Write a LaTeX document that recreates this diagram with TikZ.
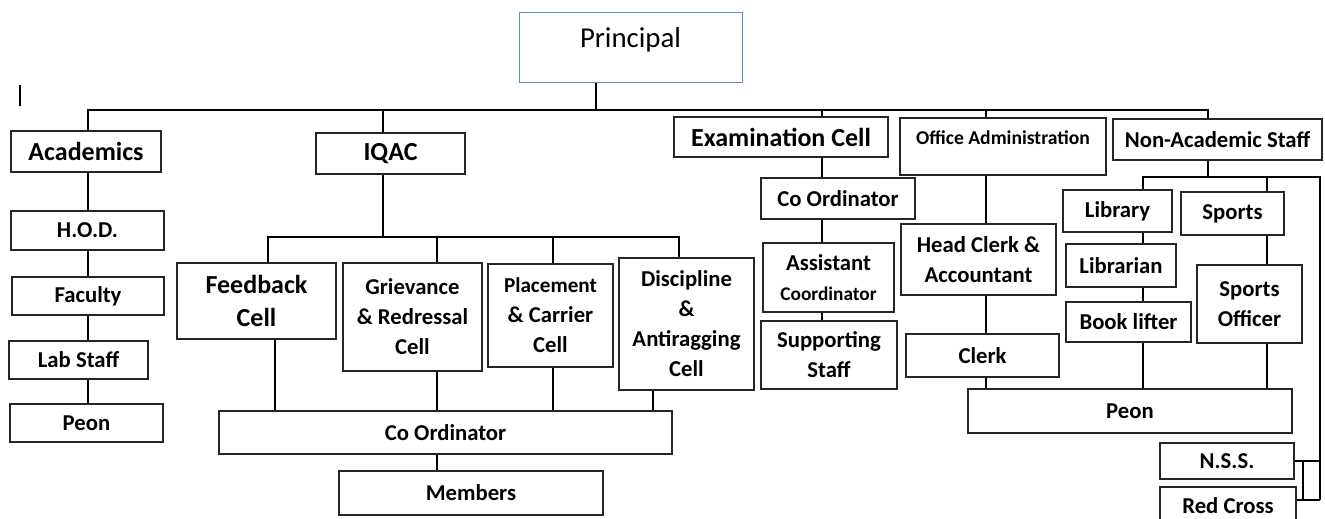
\documentclass[tikz,border=0pt]{standalone}
\usepackage{fontspec}
\setmainfont{Carlito}
\definecolor{pblue}{RGB}{100,140,200}
\tikzset{
  box/.style 2 args={draw=black!85, line width=1.4pt, align=center, inner sep=0pt,
    minimum width=#1pt, minimum height=#2pt, font=\bfseries\fontsize{22.7}{30}\selectfont},
  big/.style={font=\bfseries\fontsize{26}{33}\selectfont},
  conn/.style={line width=2.2pt},
}
\begin{document}
\begin{tikzpicture}[x=1pt,y=-1pt]
\useasboundingbox (0,0) rectangle (1325,519);
% Top row
\node[box={223}{69}, draw=pblue, line width=1pt, font=\fontsize{28.8}{34}\selectfont, text depth=19pt] (principal) at (630.5,47.5) {Principal};
\node[box={150}{41}, big] (academics) at (86,151.5) {Academics};
\node[box={149}{41}, big] (iqac) at (390.5,153.5) {IQAC};
\node[box={214}{40}, big] (examcell) at (781,137) {Examination Cell};
\node[box={206}{57}, font=\bfseries\fontsize{19.6}{24}\selectfont, text depth=18pt] (office) at (1003,146.5) {Office Administration};
\node[box={209}{41}] (nonacad) at (1217.5,139.5) {Non-Academic Staff};
\draw[line width=1.2pt] (20,85) -- (20,106);

% Academics
\node[box={153}{39}] (hod) at (87.5,230.5) {H.O.D.};
\node[box={152}{38}] (faculty) at (88,296) {Faculty};
\node[box={139}{38}] (labstaff) at (78.5,360) {Lab Staff};
\node[box={153}{38}] (peonA) at (86.5,423) {Peon};

% IQAC
\node[box={159}{76}, big] (feedback) at (256.5,301) {Feedback\\Cell};
\node[box={139}{108}] (grievance) at (412.5,317) {Grievance\\\& Redressal\\Cell};
\node[box={125}{103}] (placement) at (550.5,315.5) {{\fontsize{21.2}{30}\selectfont Placement}\\\& Carrier\\Cell};
\node[box={135}{132}] (discipline) at (686.5,324) {Discipline\\\&\\Antiragging\\Cell};
\node[box={453}{43}] (iqcoord) at (445.5,432.5) {Co Ordinator};
\node[box={264}{44}] (members) at (471,493) {Members};

% Examination cell
\node[box={154}{41}] (excoord) at (838,198.5) {Co Ordinator};
\node[box={131}{69}] (assistant) at (828.5,277.5) {Assistant\\{\fontsize{19.3}{24}\selectfont Coordinator}};
\node[box={136}{68}] (supporting) at (829,355) {Supporting\\Staff};

% Office
\node[box={155}{71}] (headclerk) at (978.5,259.5) {Head Clerk \&\\Accountant};
\node[box={153}{43}] (clerk) at (982.5,355.5) {Clerk};
\node[box={324}{44}] (peonB) at (1130,411) {Peon};

% Non-academic
\node[box={109}{42}] (library) at (1117.5,211) {Library};
\node[box={103}{43}] (sports) at (1232.5,213.5) {Sports};
\node[box={110}{43}] (librarian) at (1121,265.5) {Librarian};
\node[box={125}{40}] (booklifter) at (1128.5,322) {Book lifter};
\node[box={105}{78}] (sportsofficer) at (1249.5,304) {Sports\\Officer};
\node[box={134}{36}] (nss) at (1227,461) {N.S.S.};
\node[box={136}{38}, text depth=0pt] (redcross) at (1228,506) {Red Cross};

% Joints of the lines
\coordinate (cP) at (596,110);
\coordinate (cA) at (88,110);
\coordinate (cI) at (383,110);
\coordinate (cE) at (822,110);
\coordinate (cO) at (986,110);
\coordinate (cN) at (1208,110);
\coordinate (fb) at (268,237);
\coordinate (fbB) at (275,237);
\coordinate (gv) at (437,237);
\coordinate (pl) at (553,237);
\coordinate (dc) at (679,237);
\coordinate (dcB) at (653,237);
\coordinate (lb) at (1143,177);
\coordinate (sp) at (1267,177);
\coordinate (rt) at (1320,177);
\coordinate (rc) at (1320,500);
\coordinate (jn) at (1303,480);

\draw[conn] (principal.south -| cP) -- (cP);
\draw[conn] (academics.north -| cA) -- (cA) -- (cN) -- (nonacad.north -| cN);
\draw[conn] (cI) -- (iqac.north -| cI);
\draw[conn] (cE) -- (examcell.north -| cE);
\draw[conn] (cO) -- (office.north -| cO);

\draw[conn] (academics.south -| cA) -- (hod.north -| cA);
\draw[conn] (hod.south -| cA) -- (faculty.north -| cA);
\draw[conn] (faculty.south -| cA) -- (labstaff.north -| cA);
\draw[conn] (labstaff.south -| cA) -- (peonA.north -| cA);

\draw[conn] (iqac.south -| cI) -- (cI |- fb);
\draw[conn] (feedback.north -| fb) -- (fb) -- (dc) -- (discipline.north -| dc);
\draw[conn] (gv) -- (grievance.north -| gv);
\draw[conn] (pl) -- (placement.north -| pl);
\draw[conn] (feedback.south -| fbB) -- (iqcoord.north -| fbB);
\draw[conn] (grievance.south -| gv) -- (iqcoord.north -| gv);
\draw[conn] (placement.south -| pl) -- (iqcoord.north -| pl);
\draw[conn] (discipline.south -| dcB) -- (iqcoord.north -| dcB);
\draw[conn] (iqcoord.south -| gv) -- (members.north -| gv);

\draw[conn] (examcell.south -| cE) -- (excoord.north -| cE);
\draw[conn] (excoord.south -| cE) -- (assistant.north -| cE);
\draw[conn] (assistant.south -| cE) -- (supporting.north -| cE);

\draw[conn] (office.south -| cO) -- (headclerk.north -| cO);
\draw[conn] (headclerk.south -| cO) -- (clerk.north -| cO);
\draw[conn] (clerk.south -| cO) -- (peonB.north -| cO);

\draw[conn] (nonacad.south -| cN) -- (cN |- lb);
\draw[conn] (library.north -| lb) -- (lb) -- (rt) -- (rc);
\draw[conn] (sp) -- (sports.north -| sp);
\draw[conn] (library.south -| lb) -- (librarian.north -| lb);
\draw[conn] (librarian.south -| lb) -- (booklifter.north -| lb);
\draw[conn] (booklifter.south -| lb) -- (peonB.north -| lb);
\draw[conn] (sports.south -| sp) -- (sportsofficer.north -| sp);
\draw[conn] (sportsofficer.south -| sp) -- (peonB.north -| sp);
\draw[conn] (nss.east) -- (nss.east -| rt);
\draw[conn] (rc -| redcross.east) -- (rc);
\draw[conn] (nss.east -| jn) -- (rc -| jn);
\end{tikzpicture}
\end{document}
